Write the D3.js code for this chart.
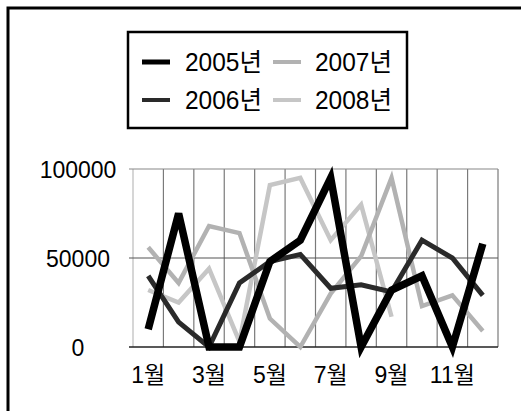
<!DOCTYPE html>
<html>
<head>
<meta charset="utf-8">
<script src="https://cdn.jsdelivr.net/npm/d3@7"></script>
<style>
  html, body { margin: 0; padding: 0; background: #fff; }
  svg { display: block; }
  text { font-family: "Liberation Sans", Arial, "Noto Sans CJK KR", sans-serif; fill: #000; }
</style>
</head>
<body>
<svg id="chart" width="521" height="411"></svg>
<script>
// Monthly figures per year
const months = ["1월","2월","3월","4월","5월","6월","7월","8월","9월","10월","11월","12월"];
const years = ["2005년", "2006년", "2007년", "2008년"];
const s2005 = [10000, 75000, 0, 0, 48000, 60000, 95000, 0, 32000, 40000, 0, 58000];
const s2006 = [40000, 14000, 0, 36000, 48000, 52000, 33000, 35000, 31000, 60000, 50000, 29000];
const s2007 = [56000, 36000, 68000, 64000, 16000, 0, 30000, 51000, 95000, 23000, 29000, 9000];
const s2008 = [32000, 25000, 44000, 3000, 91000, 95000, 60000, 80000, 17000];
const yTicks = [0, 50000, 100000];
const xTickLabels = ["1월","3월","5월","7월","9월","11월"];

const seriesStyle = [
  { name: years[0], values: s2005, color: "#000000", width: 7.5 },
  { name: years[1], values: s2006, color: "#2a2a2a", width: 5 },
  { name: years[2], values: s2007, color: "#b2b2b2", width: 4.5 },
  { name: years[3], values: s2008, color: "#c6c6c6", width: 4.5 }
];

const svg = d3.select("#chart");

// Outer frame (runs off the right and bottom edges)
svg.append("rect")
  .attr("x", 8).attr("y", 8).attr("width", 530).attr("height", 420)
  .attr("fill", "none").attr("stroke", "#000").attr("stroke-width", 3);

const plot = { left: 133, right: 498, top: 169, bottom: 347 };

const x = d3.scaleBand().domain(months).range([plot.left, plot.right]).padding(0);
const y = d3.scaleLinear().domain([0, 100000]).range([plot.bottom, plot.top]);

const grid = svg.append("g");
// vertical grid lines at category boundaries
const bounds = months.map(m => x(m)).concat([x.range()[1]]);
grid.selectAll("line.v").data(bounds).join("line")
  .attr("class", "v")
  .attr("x1", d => d).attr("x2", d => d)
  .attr("y1", plot.top).attr("y2", plot.bottom)
  .attr("stroke", (d, i) => i === 0 ? "#bbb" : "#7a7a7a").attr("stroke-width", 1.2);
// horizontal grid lines
grid.selectAll("line.h").data(yTicks).join("line")
  .attr("class", "h")
  .attr("x1", plot.left - 4).attr("x2", plot.right)
  .attr("y1", d => y(d)).attr("y2", d => y(d))
  .attr("stroke", d => d === 0 ? "#222" : (d === 100000 ? "#888" : "#555"))
  .attr("stroke-width", d => d === 0 ? 1.6 : 1.2);

// Y axis labels, centered in the left margin
const yAxis = d3.axisLeft(y).tickValues(yTicks).tickSize(0).tickFormat(d3.format("d"));
const yg = svg.append("g").attr("transform", `translate(${plot.left},0)`).call(yAxis);
yg.select(".domain").remove();
yg.selectAll("text")
  .attr("x", 78 - plot.left).attr("dy", "0.36em")
  .attr("text-anchor", "middle")
  .style("font-size", "23px").style("font-family", null);

// X axis labels on odd months
const xAxis = d3.axisBottom(x).tickValues(xTickLabels).tickSize(0);
const xg = svg.append("g").attr("transform", `translate(0,${plot.bottom})`).call(xAxis);
xg.select(".domain").remove();
xg.selectAll("text")
  .attr("y", 36).attr("dy", 0)
  .style("font-size", "23px").style("font-family", null);

// Series lines, latest year drawn first so 2005 sits on top
const line = d3.line()
  .x((d, i) => x(months[i]) + x.bandwidth() / 2)
  .y(d => y(d))
  .curve(d3.curveLinear);

svg.append("g").selectAll("path")
  .data(seriesStyle.slice().reverse()).join("path")
  .attr("d", d => line(d.values))
  .attr("fill", "none")
  .attr("stroke", d => d.color)
  .attr("stroke-width", d => d.width)
  .attr("stroke-linejoin", "miter")
  .attr("stroke-linecap", "butt");

// Legend
const lg = svg.append("g");
lg.append("rect")
  .attr("x", 128).attr("y", 32).attr("width", 279).attr("height", 96)
  .attr("fill", "#fff").attr("stroke", "#000").attr("stroke-width", 2.5);

const legendPos = [
  { sx: 142, tx: 185, cy: 62 },
  { sx: 142, tx: 185, cy: 100 },
  { sx: 273, tx: 315, cy: 62 },
  { sx: 273, tx: 315, cy: 100 }
];
const items = lg.selectAll("g.item").data(seriesStyle).join("g").attr("class", "item");
items.append("line")
  .attr("x1", (d, i) => legendPos[i].sx).attr("x2", (d, i) => legendPos[i].sx + 28)
  .attr("y1", (d, i) => legendPos[i].cy).attr("y2", (d, i) => legendPos[i].cy)
  .attr("stroke", d => d.color).attr("stroke-width", (d, i) => i === 0 ? 5 : 4);
items.append("text")
  .attr("x", (d, i) => legendPos[i].tx)
  .attr("y", (d, i) => legendPos[i].cy + 9)
  .attr("textLength", 77).attr("lengthAdjust", "spacingAndGlyphs")
  .style("font-size", "25px")
  .text(d => d.name);
</script>
</body>
</html>
